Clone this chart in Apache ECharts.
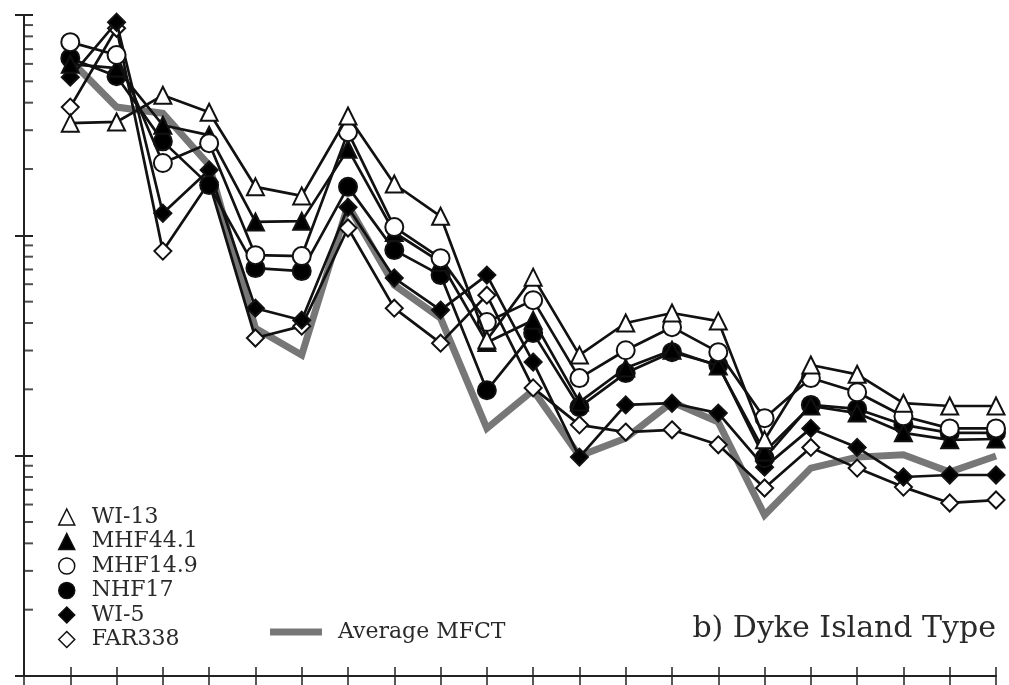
<!DOCTYPE html>
<html>
<head>
<meta charset="utf-8">
<script src="https://cdn.jsdelivr.net/npm/echarts@6/dist/echarts.min.js"></script>
<style>
  html, body { margin: 0; padding: 0; background: #fff; }
  #chart { width: 1009px; height: 685px; }
</style>
</head>
<body>
<div id="chart"></div>
<script>
// Sample normalised abundances (log scale), 21 elements each
const seriesNames = ['WI-13', 'MHF44.1', 'MHF14.9', 'NHF17', 'WI-5', 'FAR338'];
const wi13    = [323, 327, 432, 362, 166, 151, 348, 171, 122, 33.5, 64.6, 28.6, 40.0, 44.4, 40.8, 11.8, 25.8, 23.4, 17.3, 16.8, 16.8];
const mhf441  = [598, 574, 316, 285, 115, 116, 246, 103, 75.5, 32.6, 41.2, 17.5, 25.0, 30.1, 25.5, 10.4, 16.8, 15.6, 12.7, 11.8, 11.9];
const mhf149  = [753, 658, 213, 262, 81.3, 80.5, 294, 109, 78.8, 40.4, 50.8, 22.5, 30.1, 38.3, 29.5, 14.8, 22.5, 19.4, 15.1, 13.3, 13.3];
const nhf17   = [637, 527, 267, 169, 71.0, 68.8, 166, 85.7, 66.0, 19.8, 36.0, 16.6, 23.7, 29.5, 25.8, 9.75, 17.0, 16.3, 13.8, 12.7, 12.7];
const wi5     = [522, 927, 126, 198, 46.7, 41.2, 134, 64.0, 45.8, 66.0, 26.6, 9.85, 17.0, 17.3, 15.6, 8.87, 13.3, 10.9, 8.0, 8.17, 8.17];
const far338  = [382, 871, 84.8, 174, 34.2, 38.7, 108, 46.7, 32.4, 53.5, 20.3, 13.8, 12.8, 13.1, 11.2, 7.13, 10.9, 8.78, 7.2, 6.1, 6.29];
const averageMFCT = [623, 382, 358, 208, 37.9, 28.6, 137, 59.4, 42.1, 13.3, 19.8, 9.96, 12.0, 17.5, 14.2, 5.38, 8.78, 9.85, 10.1, 8.42, 9.96];
// minor log tick values on the y axis
const minorTickValues = [2,3,4,5,6,7,8,9, 20,30,40,50,60,70,80,90, 200,300,400,500,600,700,800,900];
const avgName = 'Average MFCT';
const panelTitle = 'b) Dyke Island Type';

const FONT = '"DejaVu Serif", serif';
const toPairs = arr => arr.map((v, i) => [i + 1, v]);

const markerDefs = [
  { symbol: 'triangle', fill: '#fff', size: 17, z: 7 },
  { symbol: 'triangle', fill: '#000', size: 17, z: 5 },
  { symbol: 'circle',   fill: '#fff', size: 18, z: 6 },
  { symbol: 'circle',   fill: '#000', size: 18, z: 4 },
  { symbol: 'diamond',  fill: '#000', size: 17, z: 3 },
  { symbol: 'diamond',  fill: '#fff', size: 17, z: 2 }
];
const seriesData = [wi13, mhf441, mhf149, nhf17, wi5, far338];

const series = [];
series.push({
  name: avgName, type: 'line', data: toPairs(averageMFCT),
  showSymbol: false, symbol: 'none', z: 1,
  lineStyle: { color: '#777', width: 7, join: 'miter' },
  itemStyle: { color: '#777' }
});
seriesData.forEach((d, k) => {
  const m = markerDefs[k];
  series.push({
    name: seriesNames[k], type: 'line', data: toPairs(d), z: m.z,
    symbol: m.symbol, symbolSize: m.size, showAllSymbol: true,
    lineStyle: { color: '#111', width: 2.7 },
    itemStyle: { color: m.fill, borderColor: '#111', borderWidth: 2 },
    emphasis: { disabled: true }
  });
});
series.push({
  name: 'minorTicks', type: 'scatter', silent: true, z: 20,
  data: minorTickValues.map(v => [0, v]),
  symbol: 'rect', symbolSize: [9, 2], symbolOffset: [4.5, 0],
  itemStyle: { color: '#222' }
});

const legendData = seriesNames.map((n, k) => ({
  name: n, icon: markerDefs[k].symbol,
  itemStyle: { color: markerDefs[k].fill, borderColor: '#111', borderWidth: 1.5 }
}));

const chart = echarts.init(document.getElementById('chart'), null, { renderer: 'canvas' });
chart.setOption({
  animation: false,
  backgroundColor: '#fff',
  title: {
    text: panelTitle, right: 13, top: 614, padding: 0,
    textStyle: { fontFamily: FONT, fontSize: 30, fontWeight: 'normal', color: '#2a2a2a' }
  },
  legend: [
    {
      data: legendData, orient: 'vertical', left: 58, top: 506, padding: 0,
      itemWidth: 16, itemHeight: 16, itemGap: 2.5,
      selectedMode: false,
      textStyle: { fontFamily: FONT, fontSize: 22, color: '#2a2a2a', lineHeight: 22, padding: [0, 0, 0, 12] }
    },
    {
      data: [{ name: avgName, icon: 'rect', itemStyle: { color: '#777' } }],
      left: 270, top: 621, padding: 0,
      itemWidth: 52, itemHeight: 7, selectedMode: false,
      textStyle: { fontFamily: FONT, fontSize: 22, color: '#2a2a2a', lineHeight: 22, padding: [0, 0, 0, 11] }
    }
  ],
  grid: { left: 24, right: 13, top: 15, bottom: 9, containLabel: false },
  xAxis: [
    {
      type: 'value', min: 0, max: 21, interval: 1,
      axisLine: { show: true, lineStyle: { color: '#222', width: 2 } },
      axisTick: { show: true, inside: false, length: 9, lineStyle: { color: '#222', width: 1.5 } },
      axisLabel: { show: false }, splitLine: { show: false }
    },
    {
      type: 'value', min: 0, max: 21, interval: 1, position: 'bottom', offset: 0,
      axisLine: { show: false },
      axisTick: { show: true, inside: true, length: 9, lineStyle: { color: '#222', width: 1.5 } },
      axisLabel: { show: false }, splitLine: { show: false }
    }
  ],
  yAxis: [
    {
      type: 'log', logBase: 10, min: 1, max: 1000,
      axisLine: { show: true, lineStyle: { color: '#222', width: 2 } },
      axisTick: { show: true, inside: false, length: 9, lineStyle: { color: '#222', width: 2 } },
      axisLabel: { show: false }, splitLine: { show: false }
    },
    {
      type: 'log', logBase: 10, min: 1, max: 1000, position: 'left', offset: 0,
      axisLine: { show: false },
      axisTick: { show: true, inside: true, length: 9, lineStyle: { color: '#222', width: 2 } },
      axisLabel: { show: false }, splitLine: { show: false }
    }
  ],
  series: series
});
</script>
</body>
</html>
